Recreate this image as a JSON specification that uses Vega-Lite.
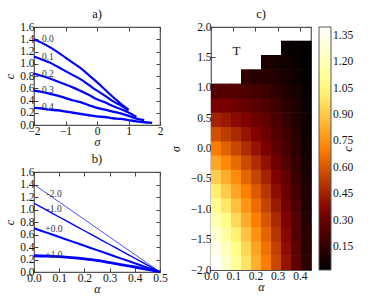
{
  "$schema": "https://vega.github.io/schema/vega-lite/v6.json",
  "padding": {"left": 3, "top": 6, "right": 3, "bottom": 1},
  "spacing": 0,
  "config": {
    "font": "Liberation Serif",
    "view": {"stroke": "#555", "strokeWidth": 1.2},
    "axis": {"domain": false, "grid": false, "tickSize": -4, "tickColor": "#444", "tickWidth": 1, "labelFont": "Liberation Serif", "labelFontSize": 11.5, "labelColor": "#111", "labelPadding": 4, "labelFlush": false, "labelOverlap": false, "titleFont": "Liberation Serif", "titleFontSize": 12, "titleFontStyle": "italic", "titleFontWeight": "normal", "titleColor": "#111", "titlePadding": 3, "minExtent": 0},
    "axisX": {"titlePadding": 0},
    "title": {"font": "Liberation Serif", "fontSize": 12.5, "fontWeight": "normal", "offset": 1, "color": "#111"}
  },
  "hconcat": [
    {
      "spacing": 2,
      "vconcat": [
        {
          "title": "a)",
          "width": 126, "height": 98,
          "data": {"values": [
            {"a":0,"s":-2,"c":1.40},{"a":0,"s":-1.75,"c":1.34},{"a":0,"s":-1.5,"c":1.27},{"a":0,"s":-1.25,"c":1.19},{"a":0,"s":-1,"c":1.10},{"a":0,"s":-0.75,"c":1.01},{"a":0,"s":-0.5,"c":0.92},{"a":0,"s":-0.25,"c":0.81},{"a":0,"s":0,"c":0.70},{"a":0,"s":0.25,"c":0.58},{"a":0,"s":0.5,"c":0.46},{"a":0,"s":0.75,"c":0.35},{"a":0,"s":1,"c":0.25},
            {"a":0.1,"s":-2,"c":1.12},{"a":0.1,"s":-1.75,"c":1.07},{"a":0.1,"s":-1.5,"c":1.02},{"a":0.1,"s":-1.25,"c":0.95},{"a":0.1,"s":-1,"c":0.88},{"a":0.1,"s":-0.75,"c":0.81},{"a":0.1,"s":-0.5,"c":0.74},{"a":0.1,"s":-0.25,"c":0.65},{"a":0.1,"s":0,"c":0.56},{"a":0.1,"s":0.25,"c":0.48},{"a":0.1,"s":0.5,"c":0.39},{"a":0.1,"s":0.75,"c":0.32},{"a":0.1,"s":1,"c":0.24},
            {"a":0.2,"s":-2,"c":0.84},{"a":0.2,"s":-1.75,"c":0.80},{"a":0.2,"s":-1.5,"c":0.76},{"a":0.2,"s":-1.25,"c":0.71},{"a":0.2,"s":-1,"c":0.66},{"a":0.2,"s":-0.75,"c":0.61},{"a":0.2,"s":-0.5,"c":0.55},{"a":0.2,"s":-0.25,"c":0.49},{"a":0.2,"s":0,"c":0.42},{"a":0.2,"s":0.25,"c":0.37},{"a":0.2,"s":0.5,"c":0.31},{"a":0.2,"s":0.75,"c":0.26},{"a":0.2,"s":1,"c":0.205},{"a":0.2,"s":1.25,"c":0.13},
            {"a":0.3,"s":-2,"c":0.56},{"a":0.3,"s":-1.75,"c":0.54},{"a":0.3,"s":-1.5,"c":0.51},{"a":0.3,"s":-1.25,"c":0.48},{"a":0.3,"s":-1,"c":0.44},{"a":0.3,"s":-0.75,"c":0.40},{"a":0.3,"s":-0.5,"c":0.37},{"a":0.3,"s":-0.25,"c":0.32},{"a":0.3,"s":0,"c":0.28},{"a":0.3,"s":0.25,"c":0.25},{"a":0.3,"s":0.5,"c":0.22},{"a":0.3,"s":0.75,"c":0.19},{"a":0.3,"s":1,"c":0.15},{"a":0.3,"s":1.25,"c":0.105},{"a":0.3,"s":1.5,"c":0.08},
            {"a":0.4,"s":-2,"c":0.28},{"a":0.4,"s":-1.75,"c":0.27},{"a":0.4,"s":-1.5,"c":0.25},{"a":0.4,"s":-1.25,"c":0.24},{"a":0.4,"s":-1,"c":0.22},{"a":0.4,"s":-0.75,"c":0.20},{"a":0.4,"s":-0.5,"c":0.18},{"a":0.4,"s":-0.25,"c":0.16},{"a":0.4,"s":0,"c":0.14},{"a":0.4,"s":0.25,"c":0.13},{"a":0.4,"s":0.5,"c":0.11},{"a":0.4,"s":0.75,"c":0.10},{"a":0.4,"s":1,"c":0.08},{"a":0.4,"s":1.25,"c":0.06},{"a":0.4,"s":1.5,"c":0.045},{"a":0.4,"s":1.75,"c":0.035}
          ]},
          "layer": [
            {
              "mark": {"type": "line", "color": "#0000ff", "interpolate": "monotone"},
              "encoding": {
                "x": {"field": "s", "type": "quantitative", "scale": {"domain": [-2, 2], "nice": false, "zero": false}, "axis": {"values": [-2, -1, 0, 1, 2], "format": ".0f", "title": "σ"}},
                "y": {"field": "c", "type": "quantitative", "scale": {"domain": [0, 1.6], "nice": false}, "axis": {"values": [0, 0.2, 0.4, 0.6, 0.8, 1.0, 1.2, 1.4, 1.6], "format": ".1f", "title": "c"}},
                "detail": {"field": "a", "type": "nominal"},
                "strokeWidth": {"field": "a", "type": "quantitative", "scale": {"domain": [0, 0.4], "range": [0.7, 2.8]}, "legend": null}
              }
            },
            {
              "data": {"values": [
                {"s": -1.75, "c": 1.40, "label": "0.0"},
                {"s": -1.75, "c": 1.11, "label": "0.1"},
                {"s": -1.75, "c": 0.83, "label": "0.2"},
                {"s": -1.75, "c": 0.57, "label": "0.3"},
                {"s": -1.75, "c": 0.29, "label": "0.4"}
              ]},
              "mark": {"type": "text", "align": "left", "baseline": "middle", "fontSize": 9.5, "color": "#333"},
              "encoding": {
                "x": {"field": "s", "type": "quantitative", "axis": {"orient": "top", "values": [-2, -1, 0, 1, 2], "labels": false, "title": null, "maxExtent": 0}},
                "y": {"field": "c", "type": "quantitative", "axis": {"orient": "right", "values": [0, 0.2, 0.4, 0.6, 0.8, 1.0, 1.2, 1.4, 1.6], "labels": false, "title": null, "maxExtent": 0}},
                "text": {"field": "label"}
              }
            }
          ],
          "resolve": {"axis": {"x": "independent", "y": "independent"}}
        },
        {
          "title": "b)",
          "width": 126, "height": 100,
          "data": {"values": [
            {"s":-2,"a":0,"c":1.40},{"s":-2,"a":0.05,"c":1.26},{"s":-2,"a":0.1,"c":1.12},{"s":-2,"a":0.15,"c":0.98},{"s":-2,"a":0.2,"c":0.84},{"s":-2,"a":0.25,"c":0.70},{"s":-2,"a":0.3,"c":0.56},{"s":-2,"a":0.35,"c":0.42},{"s":-2,"a":0.4,"c":0.28},{"s":-2,"a":0.45,"c":0.14},{"s":-2,"a":0.5,"c":0},
            {"s":-1,"a":0,"c":1.10},{"s":-1,"a":0.05,"c":0.99},{"s":-1,"a":0.1,"c":0.88},{"s":-1,"a":0.15,"c":0.77},{"s":-1,"a":0.2,"c":0.66},{"s":-1,"a":0.25,"c":0.55},{"s":-1,"a":0.3,"c":0.44},{"s":-1,"a":0.35,"c":0.33},{"s":-1,"a":0.4,"c":0.22},{"s":-1,"a":0.45,"c":0.11},{"s":-1,"a":0.5,"c":0},
            {"s":0,"a":0,"c":0.70},{"s":0,"a":0.05,"c":0.63},{"s":0,"a":0.1,"c":0.56},{"s":0,"a":0.15,"c":0.49},{"s":0,"a":0.2,"c":0.42},{"s":0,"a":0.25,"c":0.35},{"s":0,"a":0.3,"c":0.28},{"s":0,"a":0.35,"c":0.21},{"s":0,"a":0.4,"c":0.14},{"s":0,"a":0.45,"c":0.07},{"s":0,"a":0.5,"c":0},
            {"s":1,"a":0,"c":0.26},{"s":1,"a":0.05,"c":0.255},{"s":1,"a":0.1,"c":0.245},{"s":1,"a":0.15,"c":0.23},{"s":1,"a":0.2,"c":0.21},{"s":1,"a":0.25,"c":0.185},{"s":1,"a":0.3,"c":0.15},{"s":1,"a":0.35,"c":0.115},{"s":1,"a":0.4,"c":0.08},{"s":1,"a":0.45,"c":0.04},{"s":1,"a":0.5,"c":0}
          ]},
          "layer": [
            {
              "mark": {"type": "line", "color": "#0000ff", "interpolate": "monotone"},
              "encoding": {
                "x": {"field": "a", "type": "quantitative", "scale": {"domain": [0, 0.5], "nice": false}, "axis": {"values": [0, 0.1, 0.2, 0.3, 0.4, 0.5], "format": ".1f", "title": "α"}},
                "y": {"field": "c", "type": "quantitative", "scale": {"domain": [0, 1.6], "nice": false}, "axis": {"values": [0, 0.2, 0.4, 0.6, 0.8, 1.0, 1.2, 1.4, 1.6], "format": ".1f", "title": "c"}},
                "detail": {"field": "s", "type": "nominal"},
                "strokeWidth": {"field": "s", "type": "quantitative", "scale": {"domain": [-2, 1], "range": [0.7, 2.8]}, "legend": null}
              }
            },
            {
              "data": {"values": [
                {"a": 0.05, "c": 1.25, "label": "-2.0"},
                {"a": 0.05, "c": 1.01, "label": "-1.0"},
                {"a": 0.045, "c": 0.69, "label": "+0.0"},
                {"a": 0.045, "c": 0.28, "label": "+1.0"}
              ]},
              "mark": {"type": "text", "align": "left", "baseline": "middle", "fontSize": 9.5, "color": "#333"},
              "encoding": {
                "x": {"field": "a", "type": "quantitative", "axis": {"orient": "top", "values": [0, 0.1, 0.2, 0.3, 0.4, 0.5], "labels": false, "title": null, "maxExtent": 0}},
                "y": {"field": "c", "type": "quantitative", "axis": {"orient": "right", "values": [0, 0.2, 0.4, 0.6, 0.8, 1.0, 1.2, 1.4, 1.6], "labels": false, "title": null, "maxExtent": 0}},
                "text": {"field": "label"}
              }
            }
          ],
          "resolve": {"axis": {"x": "independent", "y": "independent"}}
        }
      ]
    },
    {
      "title": "c)",
      "width": 100, "height": 243,
      "layer": [
        {
          "data": {"values": [
            {"a":0,"b":0.045,"s":-2,"t":-1.7647,"c":1.40},{"a":0.045,"b":0.09,"s":-2,"t":-1.7647,"c":1.26},{"a":0.09,"b":0.135,"s":-2,"t":-1.7647,"c":1.12},{"a":0.135,"b":0.18,"s":-2,"t":-1.7647,"c":0.98},{"a":0.18,"b":0.225,"s":-2,"t":-1.7647,"c":0.84},{"a":0.225,"b":0.27,"s":-2,"t":-1.7647,"c":0.70},{"a":0.27,"b":0.315,"s":-2,"t":-1.7647,"c":0.56},{"a":0.315,"b":0.36,"s":-2,"t":-1.7647,"c":0.42},{"a":0.36,"b":0.405,"s":-2,"t":-1.7647,"c":0.28},{"a":0.405,"b":0.45,"s":-2,"t":-1.7647,"c":0.14},
            {"a":0,"b":0.045,"s":-1.7647,"t":-1.5294,"c":1.34},{"a":0.045,"b":0.09,"s":-1.7647,"t":-1.5294,"c":1.21},{"a":0.09,"b":0.135,"s":-1.7647,"t":-1.5294,"c":1.07},{"a":0.135,"b":0.18,"s":-1.7647,"t":-1.5294,"c":0.94},{"a":0.18,"b":0.225,"s":-1.7647,"t":-1.5294,"c":0.80},{"a":0.225,"b":0.27,"s":-1.7647,"t":-1.5294,"c":0.67},{"a":0.27,"b":0.315,"s":-1.7647,"t":-1.5294,"c":0.54},{"a":0.315,"b":0.36,"s":-1.7647,"t":-1.5294,"c":0.40},{"a":0.36,"b":0.405,"s":-1.7647,"t":-1.5294,"c":0.27},{"a":0.405,"b":0.45,"s":-1.7647,"t":-1.5294,"c":0.13},
            {"a":0,"b":0.045,"s":-1.5294,"t":-1.2941,"c":1.27},{"a":0.045,"b":0.09,"s":-1.5294,"t":-1.2941,"c":1.14},{"a":0.09,"b":0.135,"s":-1.5294,"t":-1.2941,"c":1.02},{"a":0.135,"b":0.18,"s":-1.5294,"t":-1.2941,"c":0.89},{"a":0.18,"b":0.225,"s":-1.5294,"t":-1.2941,"c":0.76},{"a":0.225,"b":0.27,"s":-1.5294,"t":-1.2941,"c":0.64},{"a":0.27,"b":0.315,"s":-1.5294,"t":-1.2941,"c":0.51},{"a":0.315,"b":0.36,"s":-1.5294,"t":-1.2941,"c":0.38},{"a":0.36,"b":0.405,"s":-1.5294,"t":-1.2941,"c":0.25},{"a":0.405,"b":0.45,"s":-1.5294,"t":-1.2941,"c":0.13},
            {"a":0,"b":0.045,"s":-1.2941,"t":-1.0588,"c":1.19},{"a":0.045,"b":0.09,"s":-1.2941,"t":-1.0588,"c":1.07},{"a":0.09,"b":0.135,"s":-1.2941,"t":-1.0588,"c":0.95},{"a":0.135,"b":0.18,"s":-1.2941,"t":-1.0588,"c":0.83},{"a":0.18,"b":0.225,"s":-1.2941,"t":-1.0588,"c":0.71},{"a":0.225,"b":0.27,"s":-1.2941,"t":-1.0588,"c":0.60},{"a":0.27,"b":0.315,"s":-1.2941,"t":-1.0588,"c":0.48},{"a":0.315,"b":0.36,"s":-1.2941,"t":-1.0588,"c":0.36},{"a":0.36,"b":0.405,"s":-1.2941,"t":-1.0588,"c":0.24},{"a":0.405,"b":0.45,"s":-1.2941,"t":-1.0588,"c":0.12},
            {"a":0,"b":0.045,"s":-1.0588,"t":-0.8235,"c":1.10},{"a":0.045,"b":0.09,"s":-1.0588,"t":-0.8235,"c":0.99},{"a":0.09,"b":0.135,"s":-1.0588,"t":-0.8235,"c":0.88},{"a":0.135,"b":0.18,"s":-1.0588,"t":-0.8235,"c":0.77},{"a":0.18,"b":0.225,"s":-1.0588,"t":-0.8235,"c":0.66},{"a":0.225,"b":0.27,"s":-1.0588,"t":-0.8235,"c":0.55},{"a":0.27,"b":0.315,"s":-1.0588,"t":-0.8235,"c":0.44},{"a":0.315,"b":0.36,"s":-1.0588,"t":-0.8235,"c":0.33},{"a":0.36,"b":0.405,"s":-1.0588,"t":-0.8235,"c":0.22},{"a":0.405,"b":0.45,"s":-1.0588,"t":-0.8235,"c":0.11},
            {"a":0,"b":0.045,"s":-0.8235,"t":-0.5882,"c":1.01},{"a":0.045,"b":0.09,"s":-0.8235,"t":-0.5882,"c":0.91},{"a":0.09,"b":0.135,"s":-0.8235,"t":-0.5882,"c":0.81},{"a":0.135,"b":0.18,"s":-0.8235,"t":-0.5882,"c":0.71},{"a":0.18,"b":0.225,"s":-0.8235,"t":-0.5882,"c":0.61},{"a":0.225,"b":0.27,"s":-0.8235,"t":-0.5882,"c":0.51},{"a":0.27,"b":0.315,"s":-0.8235,"t":-0.5882,"c":0.40},{"a":0.315,"b":0.36,"s":-0.8235,"t":-0.5882,"c":0.30},{"a":0.36,"b":0.405,"s":-0.8235,"t":-0.5882,"c":0.20},{"a":0.405,"b":0.45,"s":-0.8235,"t":-0.5882,"c":0.10},
            {"a":0,"b":0.045,"s":-0.5882,"t":-0.3529,"c":0.92},{"a":0.045,"b":0.09,"s":-0.5882,"t":-0.3529,"c":0.83},{"a":0.09,"b":0.135,"s":-0.5882,"t":-0.3529,"c":0.74},{"a":0.135,"b":0.18,"s":-0.5882,"t":-0.3529,"c":0.64},{"a":0.18,"b":0.225,"s":-0.5882,"t":-0.3529,"c":0.55},{"a":0.225,"b":0.27,"s":-0.5882,"t":-0.3529,"c":0.46},{"a":0.27,"b":0.315,"s":-0.5882,"t":-0.3529,"c":0.37},{"a":0.315,"b":0.36,"s":-0.5882,"t":-0.3529,"c":0.28},{"a":0.36,"b":0.405,"s":-0.5882,"t":-0.3529,"c":0.18},{"a":0.405,"b":0.45,"s":-0.5882,"t":-0.3529,"c":0.09},
            {"a":0,"b":0.045,"s":-0.3529,"t":-0.1176,"c":0.81},{"a":0.045,"b":0.09,"s":-0.3529,"t":-0.1176,"c":0.73},{"a":0.09,"b":0.135,"s":-0.3529,"t":-0.1176,"c":0.65},{"a":0.135,"b":0.18,"s":-0.3529,"t":-0.1176,"c":0.57},{"a":0.18,"b":0.225,"s":-0.3529,"t":-0.1176,"c":0.49},{"a":0.225,"b":0.27,"s":-0.3529,"t":-0.1176,"c":0.41},{"a":0.27,"b":0.315,"s":-0.3529,"t":-0.1176,"c":0.32},{"a":0.315,"b":0.36,"s":-0.3529,"t":-0.1176,"c":0.24},{"a":0.36,"b":0.405,"s":-0.3529,"t":-0.1176,"c":0.16},{"a":0.405,"b":0.45,"s":-0.3529,"t":-0.1176,"c":0.08},
            {"a":0,"b":0.045,"s":-0.1176,"t":0.1176,"c":0.70},{"a":0.045,"b":0.09,"s":-0.1176,"t":0.1176,"c":0.63},{"a":0.09,"b":0.135,"s":-0.1176,"t":0.1176,"c":0.56},{"a":0.135,"b":0.18,"s":-0.1176,"t":0.1176,"c":0.49},{"a":0.18,"b":0.225,"s":-0.1176,"t":0.1176,"c":0.42},{"a":0.225,"b":0.27,"s":-0.1176,"t":0.1176,"c":0.35},{"a":0.27,"b":0.315,"s":-0.1176,"t":0.1176,"c":0.28},{"a":0.315,"b":0.36,"s":-0.1176,"t":0.1176,"c":0.21},{"a":0.36,"b":0.405,"s":-0.1176,"t":0.1176,"c":0.14},{"a":0.405,"b":0.45,"s":-0.1176,"t":0.1176,"c":0.07},
            {"a":0,"b":0.045,"s":0.1176,"t":0.3529,"c":0.58},{"a":0.045,"b":0.09,"s":0.1176,"t":0.3529,"c":0.53},{"a":0.09,"b":0.135,"s":0.1176,"t":0.3529,"c":0.48},{"a":0.135,"b":0.18,"s":0.1176,"t":0.3529,"c":0.42},{"a":0.18,"b":0.225,"s":0.1176,"t":0.3529,"c":0.37},{"a":0.225,"b":0.27,"s":0.1176,"t":0.3529,"c":0.31},{"a":0.27,"b":0.315,"s":0.1176,"t":0.3529,"c":0.25},{"a":0.315,"b":0.36,"s":0.1176,"t":0.3529,"c":0.19},{"a":0.36,"b":0.405,"s":0.1176,"t":0.3529,"c":0.13},{"a":0.405,"b":0.45,"s":0.1176,"t":0.3529,"c":0.06},
            {"a":0,"b":0.045,"s":0.3529,"t":0.5882,"c":0.46},{"a":0.045,"b":0.09,"s":0.3529,"t":0.5882,"c":0.43},{"a":0.09,"b":0.135,"s":0.3529,"t":0.5882,"c":0.39},{"a":0.135,"b":0.18,"s":0.3529,"t":0.5882,"c":0.36},{"a":0.18,"b":0.225,"s":0.3529,"t":0.5882,"c":0.31},{"a":0.225,"b":0.27,"s":0.3529,"t":0.5882,"c":0.27},{"a":0.27,"b":0.315,"s":0.3529,"t":0.5882,"c":0.22},{"a":0.315,"b":0.36,"s":0.3529,"t":0.5882,"c":0.16},{"a":0.36,"b":0.405,"s":0.3529,"t":0.5882,"c":0.11},{"a":0.405,"b":0.45,"s":0.3529,"t":0.5882,"c":0.06},
            {"a":0,"b":0.045,"s":0.5882,"t":0.8235,"c":0.35},{"a":0.045,"b":0.09,"s":0.5882,"t":0.8235,"c":0.34},{"a":0.09,"b":0.135,"s":0.5882,"t":0.8235,"c":0.32},{"a":0.135,"b":0.18,"s":0.5882,"t":0.8235,"c":0.29},{"a":0.18,"b":0.225,"s":0.5882,"t":0.8235,"c":0.26},{"a":0.225,"b":0.27,"s":0.5882,"t":0.8235,"c":0.23},{"a":0.27,"b":0.315,"s":0.5882,"t":0.8235,"c":0.19},{"a":0.315,"b":0.36,"s":0.5882,"t":0.8235,"c":0.14},{"a":0.36,"b":0.405,"s":0.5882,"t":0.8235,"c":0.10},{"a":0.405,"b":0.45,"s":0.5882,"t":0.8235,"c":0.05},
            {"a":0,"b":0.045,"s":0.8235,"t":1.0588,"c":0.25},{"a":0.045,"b":0.09,"s":0.8235,"t":1.0588,"c":0.25},{"a":0.09,"b":0.135,"s":0.8235,"t":1.0588,"c":0.24},{"a":0.135,"b":0.18,"s":0.8235,"t":1.0588,"c":0.225},{"a":0.18,"b":0.225,"s":0.8235,"t":1.0588,"c":0.205},{"a":0.225,"b":0.27,"s":0.8235,"t":1.0588,"c":0.18},{"a":0.27,"b":0.315,"s":0.8235,"t":1.0588,"c":0.15},{"a":0.315,"b":0.36,"s":0.8235,"t":1.0588,"c":0.115},{"a":0.36,"b":0.405,"s":0.8235,"t":1.0588,"c":0.08},{"a":0.405,"b":0.45,"s":0.8235,"t":1.0588,"c":0.04},
            {"a":0.135,"b":0.18,"s":1.0588,"t":1.2941,"c":0.15},{"a":0.18,"b":0.225,"s":1.0588,"t":1.2941,"c":0.13},{"a":0.225,"b":0.27,"s":1.0588,"t":1.2941,"c":0.12},{"a":0.27,"b":0.315,"s":1.0588,"t":1.2941,"c":0.105},{"a":0.315,"b":0.36,"s":1.0588,"t":1.2941,"c":0.085},{"a":0.36,"b":0.405,"s":1.0588,"t":1.2941,"c":0.06},{"a":0.405,"b":0.45,"s":1.0588,"t":1.2941,"c":0.03},
            {"a":0.225,"b":0.27,"s":1.2941,"t":1.5294,"c":0.095},{"a":0.27,"b":0.315,"s":1.2941,"t":1.5294,"c":0.08},{"a":0.315,"b":0.36,"s":1.2941,"t":1.5294,"c":0.065},{"a":0.36,"b":0.405,"s":1.2941,"t":1.5294,"c":0.045},{"a":0.405,"b":0.45,"s":1.2941,"t":1.5294,"c":0.025},
            {"a":0.315,"b":0.36,"s":1.5294,"t":1.7647,"c":0.045},{"a":0.36,"b":0.405,"s":1.5294,"t":1.7647,"c":0.035},{"a":0.405,"b":0.45,"s":1.5294,"t":1.7647,"c":0.02}
          ]},
          "mark": {"type": "rect", "x2Offset": 0.6, "y2Offset": -0.6},
          "encoding": {
            "x": {"field": "a", "type": "quantitative", "scale": {"domain": [0, 0.45], "nice": false, "zero": false}, "axis": {"values": [0, 0.1, 0.2, 0.3, 0.4], "format": ".1f", "title": "α"}},
            "x2": {"field": "b"},
            "y": {"field": "s", "type": "quantitative", "scale": {"domain": [-2, 2], "nice": false, "zero": false}, "axis": {"values": [-2, -1.5, -1, -0.5, 0, 0.5, 1, 1.5, 2], "format": ".1f", "title": "σ", "titlePadding": 8}},
            "y2": {"field": "t"},
            "color": {
              "field": "c", "type": "quantitative",
              "scale": {"domain": [0.02, 1.40], "range": ["#000000", "#800000", "#ff8000", "#ffff80", "#ffffff"], "interpolate": "rgb"},
              "legend": {"type": "gradient", "title": "c", "titleOrient": "right", "titleFontStyle": "italic", "titleFontWeight": "normal", "titleFontSize": 12, "titleFont": "Liberation Serif", "titlePadding": 2, "values": [0.15, 0.3, 0.45, 0.6, 0.75, 0.9, 1.05, 1.2, 1.35], "format": ".2f", "gradientLength": 243, "gradientThickness": 12, "offset": 6, "padding": 0, "labelFont": "Liberation Serif", "labelFontSize": 11.5, "labelColor": "#111", "labelOffset": 2, "gradientStrokeColor": "#555", "gradientStrokeWidth": 1,
                "encode": {"title": {"update": {"angle": {"value": -90}}}}}
            }
          }
        },
        {
          "data": {"values": [{"a": 0.115, "s": 1.6, "label": "T"}]},
          "mark": {"type": "text", "fontSize": 13, "color": "#111", "baseline": "middle", "align": "center"},
          "encoding": {
            "x": {"field": "a", "type": "quantitative", "axis": {"orient": "top", "values": [0, 0.1, 0.2, 0.3, 0.4], "labels": false, "title": null, "maxExtent": 0}},
            "y": {"field": "s", "type": "quantitative", "axis": {"orient": "right", "values": [-2, -1.5, -1, -0.5, 0, 0.5, 1, 1.5, 2], "labels": false, "title": null, "maxExtent": 0}},
            "text": {"field": "label"}
          }
        }
      ],
      "resolve": {"axis": {"x": "independent", "y": "independent"}}
    }
  ]
}
